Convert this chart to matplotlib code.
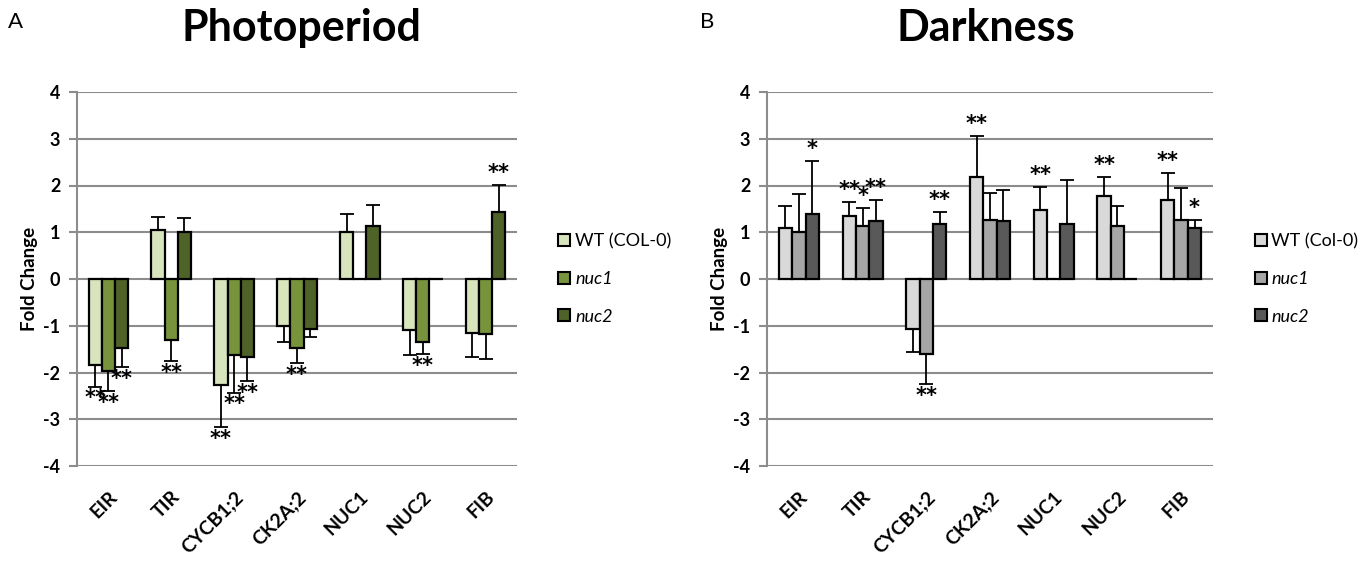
import matplotlib.pyplot as plt
from matplotlib.lines import Line2D
import numpy as np

genes = ["EIR", "TIR", "CYCB1;2", "CK2A;2", "NUC1", "NUC2", "FIB"]

# Photoperiod (panel A)
photo_wt = [-1.84, 1.04, -2.26, -1.01, 1.01, -1.09, -1.15]
photo_wt_err = [0.46, 0.29, 0.91, 0.33, 0.37, 0.54, 0.52]
photo_nuc1 = [-1.97, -1.30, -1.63, -1.47, 0.0, -1.35, -1.18]
photo_nuc1_err = [0.42, 0.46, 0.80, 0.32, 0.0, 0.25, 0.54]
photo_nuc2 = [-1.47, 1.01, -1.67, -1.06, 1.13, 0.0, 1.43]
photo_nuc2_err = [0.42, 0.29, 0.51, 0.18, 0.46, 0.0, 0.58]
photo_wt_sig = ["**", "", "**", "", "", "", ""]
photo_nuc1_sig = ["**", "**", "**", "**", "", "**", ""]
photo_nuc2_sig = ["**", "", "**", "", "", "", "**"]

# Darkness (panel B)
dark_wt = [1.10, 1.35, -1.08, 2.18, 1.48, 1.77, 1.69]
dark_wt_err = [0.46, 0.29, 0.49, 0.88, 0.49, 0.41, 0.58]
dark_nuc1 = [1.01, 1.13, -1.60, 1.26, 0.0, 1.14, 1.26]
dark_nuc1_err = [0.80, 0.39, 0.65, 0.58, 0.0, 0.42, 0.68]
dark_nuc2 = [1.39, 1.23, 1.18, 1.23, 1.18, 0.0, 1.10]
dark_nuc2_err = [1.13, 0.46, 0.25, 0.67, 0.93, 0.0, 0.16]
dark_wt_sig = ["", "**", "", "**", "**", "**", "**"]
dark_nuc1_sig = ["", "*", "**", "", "", "", ""]
dark_nuc2_sig = ["*", "**", "**", "", "", "", "*"]

plt.rcParams['font.family'] = ['Lato', 'DejaVu Sans']
plt.rcParams['axes.unicode_minus'] = False

fig = plt.figure(figsize=(13.63, 5.62), dpi=100)
W, H = 1363, 562


def draw_panel(ax, series, colors, wt_label):
    x = np.arange(len(genes))
    w = 0.21
    offsets = [-w, 0, w]
    for (vals, errs, sig), col, off in zip(series, colors, offsets):
        vals = np.array(vals)
        errs = np.array(errs)
        ax.bar(x + off, vals, w, color=col, edgecolor='black', linewidth=1.6, zorder=3)
        for xi, v, e, s in zip(x + off, vals, errs, sig):
            if e > 0:
                d = 1 if v >= 0 else -1
                ax.errorbar(xi, v, yerr=[[0], [e]] if d > 0 else [[e], [0]],
                            color='black', capsize=5, elinewidth=1.3,
                            capthick=1.3, zorder=4)
            if s:
                end = v + (e if v >= 0 else -e)
                ax.text(xi, end + (0.04 if v >= 0 else -0.04), s,
                        ha='center', va='bottom' if v >= 0 else 'top',
                        fontsize=15, fontweight='bold', family='DejaVu Sans',
                        zorder=5)
    ax.set_xlim(-0.5, len(genes) - 0.5)
    ax.set_ylim(-4, 4)
    ax.set_yticks(range(-4, 5), labels=[str(v) for v in range(-4, 5)],
                  fontsize=13, fontweight='bold')
    ax.yaxis.grid(True, color='#8c8c8c', linewidth=1.5, zorder=0)
    ax.set_axisbelow(True)
    for sp in ['top', 'right', 'bottom']:
        ax.spines[sp].set_visible(False)
    ax.spines['left'].set_color('#8c8c8c')
    ax.spines['left'].set_linewidth(1.5)
    ax.tick_params(axis='y', length=6, color='#8c8c8c', width=1.5, pad=6)
    ax.set_xticks(x, labels=genes, rotation=45, ha='right',
                  rotation_mode='anchor', fontsize=14, fontweight='bold')
    ax.tick_params(axis='x', length=0, pad=16)
    ax.set_ylabel("Fold Change", fontsize=13.5, fontweight='bold', labelpad=4)

    # legend
    handles = [Line2D([], [], marker='s', linestyle='none', markersize=9,
                      markerfacecolor=c, markeredgecolor='black',
                      markeredgewidth=1.5) for c in colors]
    leg = ax.legend(handles, [wt_label, "nuc1", "nuc2"],
                    loc='center left', bbox_to_anchor=(1.05, 0.50),
                    frameon=False, fontsize=13, handletextpad=0.1,
                    labelspacing=1.2, handlelength=1.0)
    for t in leg.get_texts()[1:]:
        t.set_style('italic')


# left panel
axA = fig.add_axes([77 / W, 1 - 466 / H, 440 / W, 374 / H])
draw_panel(axA,
           [(photo_wt, photo_wt_err, photo_wt_sig),
            (photo_nuc1, photo_nuc1_err, photo_nuc1_sig),
            (photo_nuc2, photo_nuc2_err, photo_nuc2_sig)],
           ['#d8e4bc', '#77933c', '#4f6228'], "WT (COL-0)")

# right panel
axB = fig.add_axes([767 / W, 1 - 466 / H, 446 / W, 374 / H])
draw_panel(axB,
           [(dark_wt, dark_wt_err, dark_wt_sig),
            (dark_nuc1, dark_nuc1_err, dark_nuc1_sig),
            (dark_nuc2, dark_nuc2_err, dark_nuc2_sig)],
           ['#d9d9d9', '#a6a6a6', '#595959'], "WT (Col-0)")

fig.text(301 / W, 1 - 28 / H, "Photoperiod", ha='center', va='center',
         fontsize=31, fontweight='bold')
fig.text(986 / W, 1 - 28 / H, "Darkness", ha='center', va='center',
         fontsize=31, fontweight='bold')
fig.text(8 / W, 1 - 22 / H, "A", ha='left', va='center', fontsize=16)
fig.text(700 / W, 1 - 22 / H, "B", ha='left', va='center', fontsize=16)

fig.savefig("out.png", dpi=100)
